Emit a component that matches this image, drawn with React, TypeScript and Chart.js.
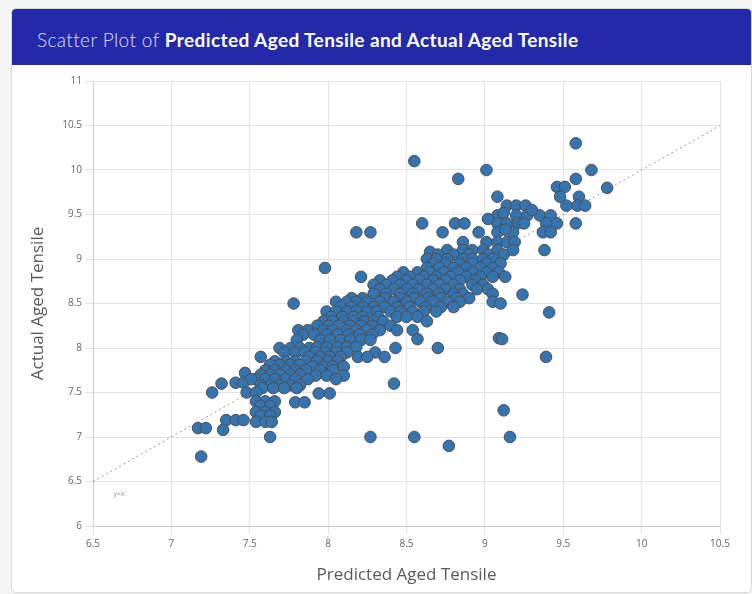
import React, { useEffect, useRef } from "react";
import { Chart, registerables } from "chart.js";

Chart.register(...registerables);

const chartTitleLight = "Scatter Plot of ";
const chartTitleBold = "Predicted Aged Tensile and Actual Aged Tensile";
const xAxisTitle = "Predicted Aged Tensile";
const yAxisTitle = "Actual Aged Tensile";

const xTicks = [6.5, 7, 7.5, 8, 8.5, 9, 9.5, 10, 10.5];
const yTicks = [6, 6.5, 7, 7.5, 8, 8.5, 9, 9.5, 10, 10.5, 11];
const diagonal = [6.5, 10.5];

// Predicted (x) and actual (y) values, listed row by row
const predicted: number[] = [
  // high outliers
  9.58, 8.55, 9.01, 8.83, 9.68, 9.58, 9.78, 8.18, 8.27, 7.98, 7.78,
  // 9.6 - 9.8
  9.46, 9.51, 9.48, 9.6, 9.52, 9.59, 9.64, 9.08, 9.14, 9.2, 9.26,
  // 9.5
  9.08, 9.2, 9.27, 9.35, 9.42, 9.12, 9.3,
  // 9.4
  9.08, 9.14, 9.21, 9.39, 9.46, 9.58, 8.6, 8.81, 8.87, 9.25, 9.02,
  // 9.3
  8.73, 8.96, 9.08, 9.18, 9.37, 9.42, 9.13,
  // 9.2
  8.86, 9.01, 9.08, 9.14, 9.19,
  // 9.1
  8.76, 8.86, 8.92, 8.99, 9.08, 9.18, 9.38, 8.65,
  // 9.05
  8.7, 8.8, 8.9, 9.02, 9.12,
  // 9.0
  8.63, 8.69, 8.76, 8.86, 8.92, 8.99, 9.05,
  // 8.95
  8.67, 8.75, 8.84, 8.92, 9.01, 9.1,
  // 8.9
  8.63, 8.71, 8.8, 8.88, 8.97, 9.05,
  // 8.85
  8.48, 8.57, 8.65, 8.74, 8.83, 8.92, 9.01, 9.09,
  // 8.8
  8.44, 8.52, 8.61, 8.69, 8.78, 8.88, 8.97, 9.05, 9.13, 8.21,
  // 8.75
  8.33, 8.41, 8.5, 8.58, 8.67, 8.75, 8.84, 8.94,
  // 8.7
  8.29, 8.37, 8.46, 8.54, 8.63, 8.71, 8.8, 8.92, 8.99,
  // 8.65
  8.33, 8.42, 8.5, 8.58, 8.67, 8.75, 8.84, 8.95, 9.02,
  // 8.6
  8.29, 8.37, 8.46, 8.54, 8.63, 8.71, 8.8, 8.86, 9.05, 9.24,
  // 8.55
  8.15, 8.22, 8.36, 8.46, 8.55, 8.64, 8.72, 8.82, 8.9,
  // 8.5
  8.05, 8.12, 8.18, 8.25, 8.33, 8.42, 8.5, 8.59, 8.67, 8.76, 8.84, 9.05, 9.1,
  // 8.45
  8.08, 8.15, 8.22, 8.29, 8.36, 8.44, 8.52, 8.62, 8.72, 8.8,
  // 8.4
  7.99, 8.05, 8.12, 8.18, 8.25, 8.31, 8.4, 8.46, 8.54, 8.61, 8.69, 9.41,
  // 8.35
  8.02, 8.09, 8.16, 8.22, 8.32, 8.44, 8.5,
  // 8.3
  7.97, 8.03, 8.1, 8.16, 8.23, 8.29, 8.35, 8.57, 8.63,
  // 8.25
  7.93, 8.0, 8.07, 8.14, 8.21, 8.28, 8.4,
  // 8.2
  7.81, 7.87, 7.97, 8.03, 8.12, 8.18, 8.25, 8.33, 8.44, 8.54,
  // 8.15
  7.84, 7.91, 7.99, 8.06, 8.13, 8.2, 8.28,
  // 8.1
  7.8, 7.95, 8.01, 8.08, 8.14, 8.21, 8.27, 8.57, 9.09, 9.11,
  // 8.0
  7.69, 7.76, 7.82, 7.88, 7.93, 7.99, 8.06, 8.12, 8.18, 8.43, 8.7,
  // 7.95
  7.72, 7.79, 7.85, 7.92, 7.98, 8.05, 8.12, 8.3,
  // 7.9
  7.57, 7.88, 7.95, 8.01, 8.08, 8.19, 8.25, 8.36, 9.39,
  // 7.85
  7.66, 7.73, 7.79, 7.86, 7.93, 8.0, 8.06,
  // 7.8
  7.63, 7.69, 7.76, 7.82, 7.9, 7.97, 8.03, 8.1,
  // 7.75
  7.6, 7.66, 7.73, 7.79, 7.86, 7.95, 8.03,
  // 7.7
  7.47, 7.57, 7.63, 7.69, 7.76, 7.82, 7.92, 7.99, 8.1,
  // 7.65
  7.54, 7.6, 7.66, 7.73, 7.79, 7.87,
  // 7.6
  7.32, 7.41, 7.46, 7.51, 7.57, 7.63, 7.69, 7.76, 7.82, 8.05, 8.42,
  // 7.55
  7.58, 7.65, 7.72, 7.8,
  // 7.5
  7.26, 7.48, 7.54, 7.94, 8.01,
  // 7.4
  7.54, 7.6, 7.66, 7.79, 7.85, 7.57, 7.63,
  // 7.3
  7.54, 7.6, 7.66, 9.12, 7.57, 7.63,
  // 7.2
  7.35, 7.41, 7.46, 7.54, 7.6, 7.64,
  // 7.1
  7.17, 7.22, 7.33,
  // 7.0 and below
  7.63, 8.27, 8.55, 9.16, 8.77, 7.19,
];

const actual: number[] = [
  // high outliers
  10.3, 10.1, 10.0, 9.9, 10.0, 9.9, 9.8, 9.3, 9.3, 8.9, 8.5,
  // 9.6 - 9.8
  9.81, 9.81, 9.7, 9.7, 9.6, 9.6, 9.6, 9.7, 9.6, 9.6, 9.6,
  // 9.5
  9.49, 9.49, 9.49, 9.49, 9.49, 9.52, 9.55,
  // 9.4
  9.4, 9.4, 9.4, 9.4, 9.4, 9.4, 9.4, 9.4, 9.4, 9.4, 9.45,
  // 9.3
  9.3, 9.3, 9.3, 9.3, 9.3, 9.3, 9.33,
  // 9.2
  9.19, 9.19, 9.19, 9.19, 9.19,
  // 9.1
  9.1, 9.1, 9.1, 9.1, 9.1, 9.1, 9.1, 9.08,
  // 9.05
  9.05, 9.05, 9.05, 9.05, 9.05,
  // 9.0
  9.0, 9.0, 9.0, 9.0, 9.0, 9.0, 9.0,
  // 8.95
  8.95, 8.95, 8.95, 8.95, 8.95, 8.95,
  // 8.9
  8.9, 8.9, 8.9, 8.9, 8.9, 8.9,
  // 8.85
  8.85, 8.85, 8.85, 8.85, 8.85, 8.85, 8.85, 8.85,
  // 8.8
  8.8, 8.8, 8.8, 8.8, 8.8, 8.8, 8.8, 8.8, 8.8, 8.8,
  // 8.75
  8.76, 8.76, 8.76, 8.76, 8.76, 8.76, 8.76, 8.76,
  // 8.7
  8.71, 8.71, 8.71, 8.71, 8.71, 8.71, 8.71, 8.71, 8.71,
  // 8.65
  8.66, 8.66, 8.66, 8.66, 8.66, 8.66, 8.66, 8.66, 8.66,
  // 8.6
  8.61, 8.61, 8.61, 8.61, 8.61, 8.61, 8.61, 8.61, 8.61, 8.6,
  // 8.55
  8.56, 8.56, 8.56, 8.56, 8.56, 8.56, 8.56, 8.56, 8.56,
  // 8.5
  8.52, 8.52, 8.52, 8.52, 8.52, 8.52, 8.52, 8.52, 8.52, 8.52, 8.52, 8.52, 8.5,
  // 8.45
  8.46, 8.46, 8.46, 8.46, 8.46, 8.46, 8.46, 8.46, 8.46, 8.46,
  // 8.4
  8.41, 8.41, 8.41, 8.41, 8.41, 8.41, 8.41, 8.41, 8.41, 8.41, 8.41, 8.4,
  // 8.35
  8.35, 8.35, 8.35, 8.35, 8.35, 8.35, 8.35,
  // 8.3
  8.3, 8.3, 8.3, 8.3, 8.3, 8.3, 8.3, 8.35, 8.3,
  // 8.25
  8.25, 8.25, 8.25, 8.25, 8.25, 8.25, 8.25,
  // 8.2
  8.2, 8.2, 8.2, 8.2, 8.2, 8.2, 8.2, 8.2, 8.2, 8.2,
  // 8.15
  8.15, 8.15, 8.15, 8.15, 8.15, 8.15, 8.15,
  // 8.1
  8.09, 8.09, 8.09, 8.09, 8.09, 8.09, 8.09, 8.1, 8.11, 8.1,
  // 8.0
  8.0, 8.0, 8.0, 8.0, 8.01, 8.01, 8.01, 8.01, 8.01, 8.0, 8.0,
  // 7.95
  7.95, 7.95, 7.95, 7.95, 7.95, 7.95, 7.95, 7.95,
  // 7.9
  7.9, 7.9, 7.9, 7.9, 7.9, 7.9, 7.9, 7.9, 7.9,
  // 7.85
  7.85, 7.85, 7.85, 7.85, 7.85, 7.85, 7.85,
  // 7.8
  7.81, 7.81, 7.81, 7.81, 7.79, 7.79, 7.79, 7.79,
  // 7.75
  7.75, 7.75, 7.75, 7.75, 7.75, 7.75, 7.75,
  // 7.7
  7.72, 7.7, 7.7, 7.7, 7.7, 7.7, 7.69, 7.69, 7.69,
  // 7.65
  7.65, 7.65, 7.65, 7.65, 7.65, 7.65,
  // 7.6
  7.6, 7.61, 7.61, 7.65, 7.58, 7.58, 7.58, 7.58, 7.58, 7.65, 7.6,
  // 7.55
  7.55, 7.55, 7.55, 7.55,
  // 7.5
  7.5, 7.5, 7.5, 7.49, 7.49,
  // 7.4
  7.4, 7.4, 7.4, 7.39, 7.39, 7.35, 7.35,
  // 7.3
  7.28, 7.28, 7.28, 7.3, 7.24, 7.24,
  // 7.2
  7.19, 7.19, 7.19, 7.17, 7.17, 7.17,
  // 7.1
  7.1, 7.1, 7.08,
  // 7.0 and below
  7.0, 7.0, 7.0, 7.0, 6.9, 6.78,
];

const noteText = "y=x";
const noteX = 6.63;
const noteY = 6.36;

const FONT = "'Open Sans', 'DejaVu Sans', sans-serif";

const fmt = (v: number | string) => String(Number(v));

export default function App() {
  const ref = useRef<HTMLCanvasElement | null>(null);

  useEffect(() => {
    if (!ref.current) return;
    const pts = predicted.map((x, i) => ({ x, y: actual[i] }));
    const notePlugin = {
      id: "note",
      afterDatasetsDraw(chart: any) {
        const { ctx, scales } = chart;
        ctx.save();
        ctx.font = `7px ${FONT}`;
        ctx.fillStyle = "#9a9a9a";
        ctx.textAlign = "left";
        ctx.textBaseline = "middle";
        ctx.fillText(noteText, scales.x.getPixelForValue(noteX), scales.y.getPixelForValue(noteY));
        ctx.restore();
      },
    };
    const chart = new Chart(ref.current, {
      type: "scatter",
      data: {
        datasets: [
          {
            type: "line",
            data: diagonal.map((v) => ({ x: v, y: v })),
            borderColor: "#999999",
            borderWidth: 1,
            borderDash: [2, 3],
            pointRadius: 0,
            fill: false,
            order: 2,
          } as any,
          {
            data: pts,
            backgroundColor: "#3474b1",
            borderColor: "#4f4f4f",
            borderWidth: 1,
            pointRadius: 5.8,
            pointHoverRadius: 5.8,
            order: 1,
          },
        ],
      },
      options: {
        responsive: false,
        animation: false,
        devicePixelRatio: 1,
        layout: { padding: { top: 16, right: 31, left: 0, bottom: 0 } },
        plugins: {
          legend: { display: false },
          tooltip: { enabled: false },
        },
        scales: {
          x: {
            type: "linear",
            min: 6.5,
            max: 10.5,
            afterBuildTicks: (s: any) => {
              s.ticks = xTicks.map((v) => ({ value: v }));
            },
            afterFit: (s: any) => {
              s.height = 66;
            },
            ticks: {
              font: { size: 10, family: FONT },
              color: "#666",
              padding: 4,
              maxRotation: 0,
              autoSkip: false,
              callback: fmt,
            },
            grid: { color: "#e3e3e3", tickLength: 8 },
            border: { color: "#cccccc" },
            title: {
              display: true,
              text: xAxisTitle,
              font: { size: 17, family: FONT },
              color: "#5a5a5a",
              padding: { top: 4, bottom: 7 },
            },
          },
          y: {
            type: "linear",
            min: 6,
            max: 11,
            afterBuildTicks: (s: any) => {
              s.ticks = yTicks.map((v) => ({ value: v }));
            },
            afterFit: (s: any) => {
              s.width = 81;
            },
            ticks: {
              font: { size: 10, family: FONT },
              color: "#666",
              padding: 3,
              autoSkip: false,
              callback: fmt,
            },
            grid: { color: "#e3e3e3", tickLength: 8 },
            border: { color: "#cccccc" },
            title: {
              display: true,
              text: yAxisTitle,
              font: { size: 17, family: FONT },
              color: "#5a5a5a",
              padding: { top: 16, bottom: 4 },
            },
          },
        },
      },
      plugins: [notePlugin],
    });
    return () => chart.destroy();
  }, []);

  return (
    <div
      style={{
        position: "absolute",
        left: 0,
        top: 0,
        width: 752,
        height: 594,
        background: "#f5f5f5",
        overflow: "hidden",
      }}
    >
      <div
        style={{
          position: "absolute",
          left: 11,
          top: 8,
          width: 741,
          height: 585,
          background: "#fff",
          border: "1px solid #d9d9d9",
          borderRadius: 5,
          overflow: "hidden",
          boxSizing: "border-box",
        }}
      >
        <div
          style={{
            height: 56,
            background: "#2329a9",
            color: "#fff",
            display: "flex",
            alignItems: "center",
            paddingLeft: 25,
            paddingTop: 4,
            boxSizing: "border-box",
            fontFamily: "Lato, 'Open Sans', sans-serif",
            fontSize: 19,
            letterSpacing: 0.4,
            whiteSpace: "pre",
          }}
        >
          <span style={{ fontWeight: 300, opacity: 0.85 }}>{chartTitleLight}</span>
          <span style={{ fontWeight: 700 }}>{chartTitleBold}</span>
        </div>
        <canvas ref={ref} width={739} height={527} style={{ display: "block" }} />
      </div>
    </div>
  );
}
